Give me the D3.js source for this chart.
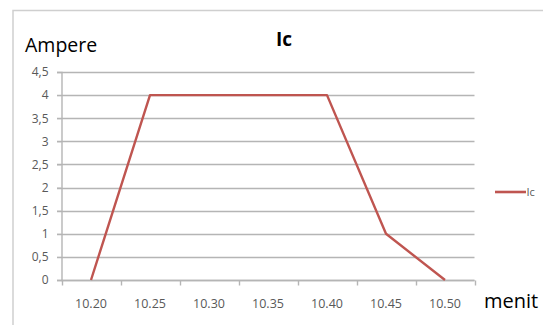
<!DOCTYPE html>
<html>
<head>
<meta charset="utf-8">
<script src="https://cdn.jsdelivr.net/npm/d3@7"></script>
<style>
  html, body { margin: 0; padding: 0; background: #fff; }
  svg { display: block; }
</style>
</head>
<body>
<svg id="chart" width="543" height="325"></svg>
<script>
// Current Ic over time
const categories = ["10.20", "10.25", "10.30", "10.35", "10.40", "10.45", "10.50"];
const icValues = [0, 4, 4, 4, 4, 1, 0];
const yTicks = [0, 0.5, 1, 1.5, 2, 2.5, 3, 3.5, 4, 4.5];
const seriesName = "Ic";

const svg = d3.select("#chart");
const font = "'Open Sans', 'DejaVu Sans', sans-serif";
const lineColor = "#bf5550";
const gridColor = "#b5b5b5";

// outer chart frame (top and left edges visible)
svg.append("path")
  .attr("d", "M13,325 L13,10.5 L543,10.5")
  .attr("fill", "none")
  .attr("stroke", "#cfcfcf")
  .attr("stroke-width", 1.5);

const plot = { left: 61.5, right: 474.5, top: 72, bottom: 280 };

const x = d3.scaleBand().domain(categories).range([plot.left, plot.right]);
const y = d3.scaleLinear().domain([0, 4.5]).range([plot.bottom, plot.top]);

// horizontal gridlines
svg.append("g")
  .selectAll("line")
  .data(yTicks)
  .join("line")
  .attr("x1", plot.left - 4.5)
  .attr("x2", plot.right)
  .attr("y1", d => Math.round(y(d)) + 0.5)
  .attr("y2", d => Math.round(y(d)) + 0.5)
  .attr("stroke", gridColor)
  .attr("stroke-width", 1.4);

// y axis
const yAxis = svg.append("g")
  .attr("transform", `translate(${plot.left},0)`)
  .call(d3.axisLeft(y).tickValues(yTicks).tickSize(4.5)
    .tickFormat(d => String(d).replace(".", ",")));
yAxis.select(".domain").attr("stroke", gridColor).attr("stroke-width", 1.4);
yAxis.selectAll(".tick line").attr("stroke", gridColor);
yAxis.selectAll(".tick text")
  .attr("x", -13)
  .attr("fill", "#595959")
  .style("font-family", font)
  .style("font-size", "12px");

// x axis with tick marks between categories
const xAxisG = svg.append("g").attr("transform", `translate(0,${Math.round(y(0)) + 0.5})`);
xAxisG.append("line")
  .attr("x1", plot.left).attr("x2", plot.right)
  .attr("stroke", gridColor).attr("stroke-width", 1.4);
const boundaries = categories.map(c => x(c)).concat([x(categories[categories.length - 1]) + x.bandwidth()]);
xAxisG.selectAll("line.tk")
  .data(boundaries)
  .join("line")
  .attr("class", "tk")
  .attr("x1", d => Math.round(d) + 0.5)
  .attr("x2", d => Math.round(d) + 0.5)
  .attr("y1", 0).attr("y2", 5)
  .attr("stroke", gridColor).attr("stroke-width", 1.4);
xAxisG.selectAll("text")
  .data(categories)
  .join("text")
  .attr("x", d => x(d) + x.bandwidth() / 2)
  .attr("y", 27)
  .attr("text-anchor", "middle")
  .attr("fill", "#595959")
  .style("font-family", font)
  .style("font-size", "12.5px")
  .text(d => d);

// data line
const line = d3.line()
  .x((d, i) => x(categories[i]) + x.bandwidth() / 2)
  .y(d => y(d));
svg.append("path")
  .datum(icValues)
  .attr("d", line)
  .attr("fill", "none")
  .attr("stroke", lineColor)
  .attr("stroke-width", 2.4)
  .attr("stroke-linejoin", "round");

// title
svg.append("text")
  .attr("x", 284).attr("y", 45.5)
  .attr("text-anchor", "middle")
  .attr("fill", "#000")
  .style("font-family", font)
  .style("font-weight", "bold")
  .style("font-size", "19px")
  .text("Ic");

// axis titles
svg.append("text")
  .attr("x", 25).attr("y", 52)
  .attr("fill", "#000")
  .style("font-family", font)
  .style("font-size", "19.5px")
  .text("Ampere");
svg.append("text")
  .attr("x", 484).attr("y", 308)
  .attr("fill", "#000")
  .style("font-family", font)
  .style("font-size", "20px")
  .text("menit");

// legend
const legend = svg.append("g").attr("transform", "translate(495,192)");
legend.append("line")
  .attr("x1", 0).attr("x2", 31)
  .attr("stroke", lineColor).attr("stroke-width", 2.6);
legend.append("text")
  .attr("x", 31.5).attr("y", 3.8)
  .attr("fill", "#595959")
  .style("font-family", font)
  .style("font-size", "11px")
  .text(seriesName);
</script>
</body>
</html>
